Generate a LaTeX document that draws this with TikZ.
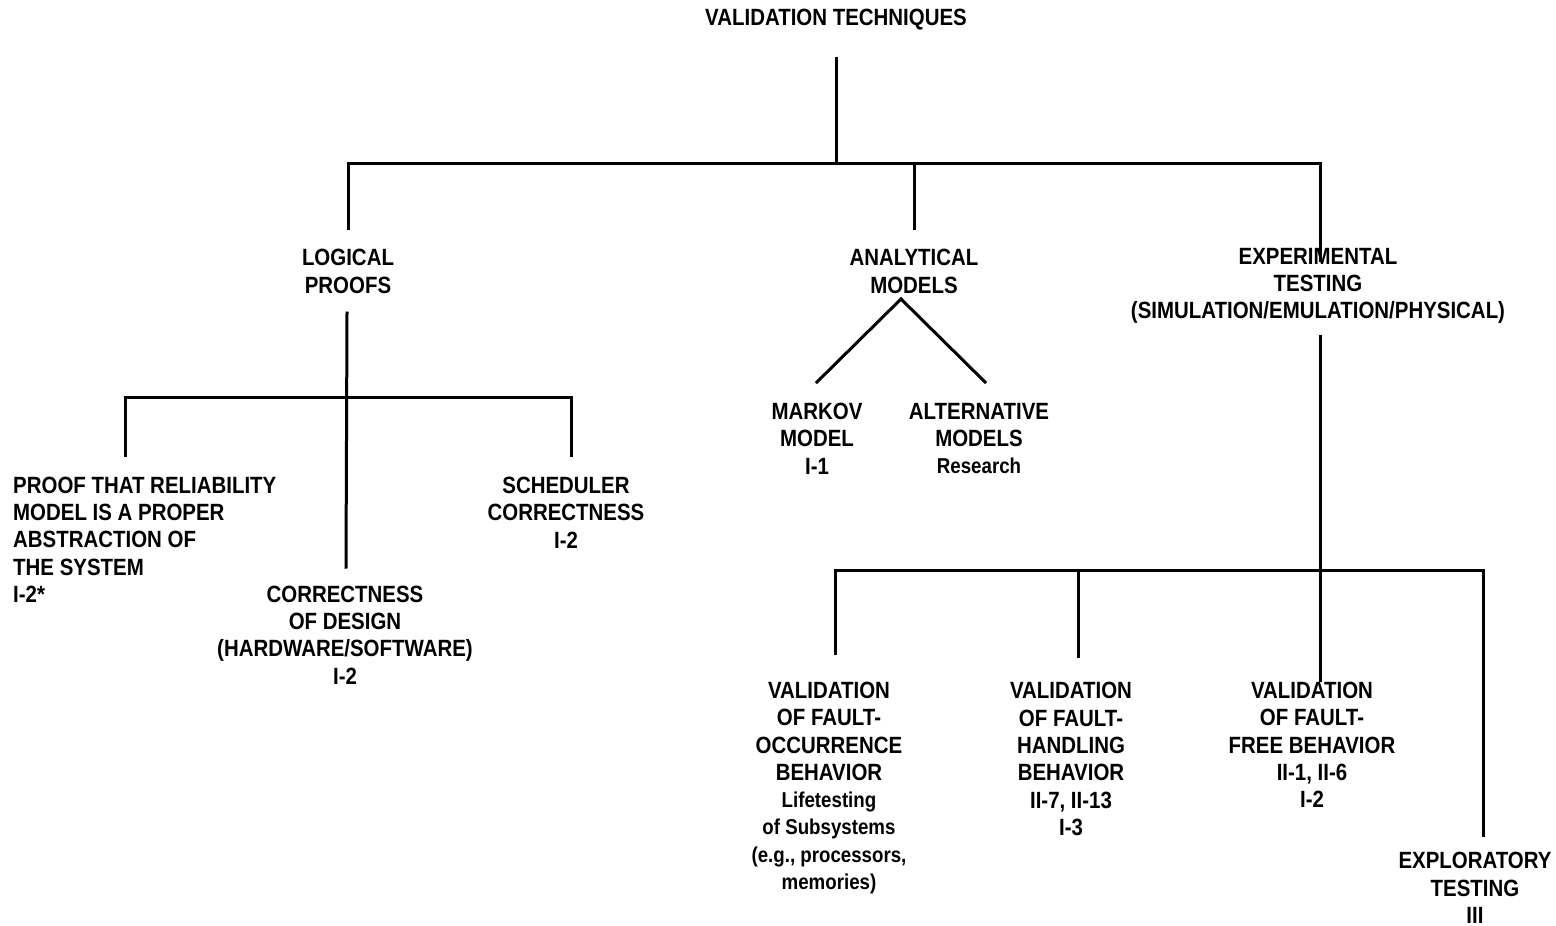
\documentclass[tikz,border=0pt]{standalone}
\usepackage{fontspec}
\newfontfamily\cond[FakeStretch=0.87]{Liberation Sans}
\tikzset{
  lbl/.style={font=\cond\bfseries\fontsize{23.5}{27.3}\selectfont, align=center, inner sep=0pt},
  lblleft/.style={lbl, align=left},
  conn/.style={line width=3pt, line cap=rect},
}
\newcommand{\smtxt}{\fontsize{21.5}{27.3}\selectfont}
\begin{document}
\begin{tikzpicture}[x=1pt,y=-1pt]
\useasboundingbox (0,0) rectangle (1556,926);

% nodes
\node[lbl] (root) at (836,20) {VALIDATION TECHNIQUES};
\node[lbl] (logic) at (348,271.5) {LOGICAL\\PROOFS};
\node[lbl] (anal) at (914,271.5) {ANALYTICAL\\MODELS};
\node[lbl] (exper) at (1318,286) {EXPERIMENTAL\\TESTING\\(SIMULATION/EMULATION/PHYSICAL)};
\node[lblleft, anchor=west] (proof) at (13,539.5) {PROOF THAT RELIABILITY\\MODEL IS A PROPER\\ABSTRACTION OF\\THE SYSTEM\\I-2*};
\node[lbl] (sched) at (566,512.5) {SCHEDULER\\CORRECTNESS\\I-2};
\node[lbl] (design) at (345,635) {CORRECTNESS\\OF DESIGN\\(HARDWARE/SOFTWARE)\\I-2};
\node[lbl] (markov) at (817,438.5) {MARKOV\\MODEL\\I-1};
\node[lbl] (alt) at (979,438.5) {ALTERNATIVE\\MODELS\\{\smtxt Research}};
\node[lbl] (occ) at (829,788) {VALIDATION\\OF FAULT-\\OCCURRENCE\\BEHAVIOR\\{\smtxt Lifetesting}\\{\smtxt of Subsystems}\\{\smtxt (e.g., processors,}\\{\smtxt memories)}};
\node[lbl] (hand) at (1071,759) {VALIDATION\\OF FAULT-\\HANDLING\\BEHAVIOR\\II-7, II-13\\I-3};
\node[lbl] (free) at (1312,745) {VALIDATION\\OF FAULT-\\FREE BEHAVIOR\\II-1, II-6\\I-2};
\node[lbl] (expl) at (1475,888) {EXPLORATORY\\TESTING\\III};

% junction coordinates
\coordinate (r0) at (836,58);
\coordinate (r1) at (836,163);
\coordinate (bl) at (348,163);
\coordinate (bm) at (914,163);
\coordinate (br) at (1320,163);
\coordinate (lt) at (348,228);
\coordinate (at) at (914,228);
\coordinate (et) at (1320,260);

\coordinate (l0) at (347,313);
\coordinate (l1) at (347,397);
\coordinate (lL) at (125,397);
\coordinate (lR) at (571,397);
\coordinate (lLd) at (125,455);
\coordinate (lRd) at (571,455);
\coordinate (lD) at (346,567);

\coordinate (a0) at (901,299);
\coordinate (am) at (817,382);
\coordinate (aa) at (985,382);

\coordinate (e0) at (1320,336);
\coordinate (e1) at (1320,570);
\coordinate (eL) at (835,570);
\coordinate (eH) at (1078,570);
\coordinate (eR) at (1483,570);
\coordinate (eLd) at (835,653);
\coordinate (eHd) at (1078,656);
\coordinate (eFd) at (1320,680);
\coordinate (eRd) at (1483,835);

% connectors
\draw[conn] (r0) -- (r1);
\draw[conn] (bl) -- (br);
\draw[conn] (bl) -- (lt);
\draw[conn] (bm) -- (at);
\draw[conn] (br) -- (et);

\draw[conn] (l0) -- (lD);
\draw[conn] (lL) -- (lR);
\draw[conn] (lL) -- (lLd);
\draw[conn] (lR) -- (lRd);

\draw[conn] (a0) -- (am);
\draw[conn] (a0) -- (aa);

\draw[conn] (e0) -- (e1);
\draw[conn] (eL) -- (eR);
\draw[conn] (eL) -- (eLd);
\draw[conn] (eH) -- (eHd);
\draw[conn] (e1) -- (eFd);
\draw[conn] (eR) -- (eRd);
\end{tikzpicture}
\end{document}
